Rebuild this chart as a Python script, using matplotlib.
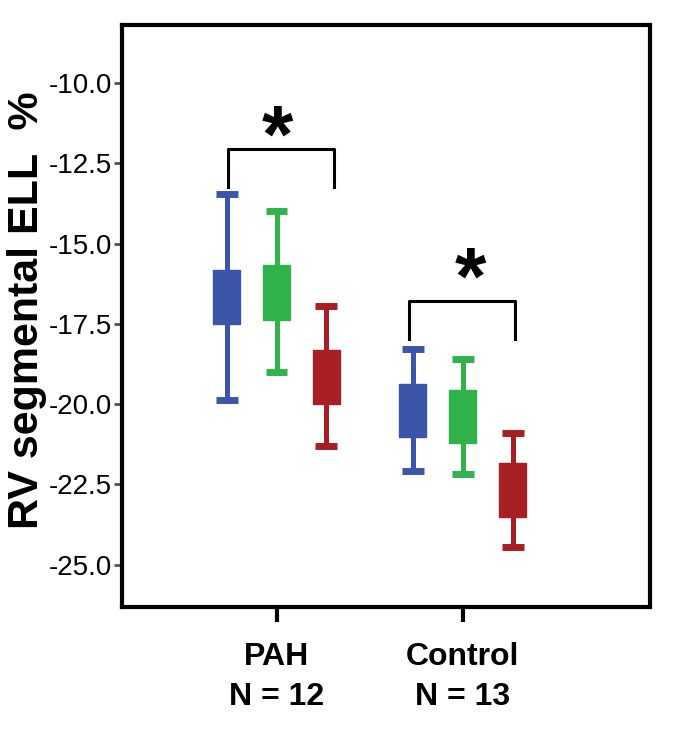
import matplotlib.pyplot as plt

# ---- data ----
groups = ["PAH\nN = 12", "Control\nN = 13"]
colors = ["#3b55a8", "#2fb34a", "#a81e22"]

# per group: three boxes (blue, green, red)
whis_hi = [[-13.45, -14.0, -16.95], [-18.28, -18.6, -20.9]]
box_hi = [[-15.82, -15.66, -18.31], [-19.37, -19.55, -21.83]]
box_lo = [[-17.5, -17.38, -19.99], [-21.02, -21.2, -23.5]]
whis_lo = [[-19.87, -19.0, -21.3], [-22.08, -22.17, -24.44]]

yticks = [-10.0, -12.5, -15.0, -17.5, -20.0, -22.5, -25.0]

# significance brackets: (x left, x right, top, bottom)
brackets = [(0.738, 1.31, -12.05, -13.24), (1.711, 2.283, -16.78, -17.97)]
stars = [(1.005, -11.78), (2.043, -16.22)]

# ---- figure ----
fig = plt.figure(figsize=(6.74, 7.32), dpi=100)
ax = fig.add_axes([0.181, 0.171, 0.783, 0.795])

offset = 0.268
box_w = 0.145
cap_w = 0.118

for g in range(len(groups)):
    for k in range(3):
        x = g + 1 + (k - 1) * offset
        c = colors[k]
        ax.vlines(x, whis_lo[g][k], whis_hi[g][k], color=c, lw=3.6, zorder=2)
        ax.hlines([whis_lo[g][k], whis_hi[g][k]], x - cap_w / 2, x + cap_w / 2,
                  color=c, lw=5, zorder=2)
        ax.bar(x, box_hi[g][k] - box_lo[g][k], bottom=box_lo[g][k], width=box_w,
               color=c, edgecolor=c, lw=1, zorder=3)

for (x0, x1, top, bot), (sx, sy) in zip(brackets, stars):
    ax.plot([x0, x0, x1, x1], [bot, top, top, bot], color="black", lw=2.2,
            solid_joinstyle="round")
    ax.text(sx, sy, "*", fontsize=58, fontweight="bold", ha="center",
            va="center", family="Liberation Sans")

ax.set_xlim(0.17, 3.005)
ax.set_ylim(-26.31, -8.19)
ax.set_yticks(yticks)
ax.set_yticklabels([f"{v:.1f}" for v in yticks])
ax.set_xticks([1, 2])
ax.set_xticklabels(groups)

for s in ax.spines.values():
    s.set_linewidth(3)

ax.tick_params(axis="y", length=6, width=2, color="#555555", pad=1,
               labelsize=20)
ax.tick_params(axis="x", length=11, width=3, pad=14, labelsize=23)
for lab in ax.get_yticklabels():
    lab.set_family(["Liberation Sans Narrow", "Liberation Sans"])
for lab in ax.get_xticklabels():
    lab.set_family(["Liberation Sans Narrow", "Liberation Sans"])
    lab.set_fontweight("bold")
    lab.set_linespacing(1.45)

ax.set_ylabel("RV segmental ELL  %", fontsize=31, fontweight="bold",
              family="Liberation Sans")
ax.yaxis.set_label_coords(-0.143, 0.51)

fig.savefig("out.png", dpi=100)
